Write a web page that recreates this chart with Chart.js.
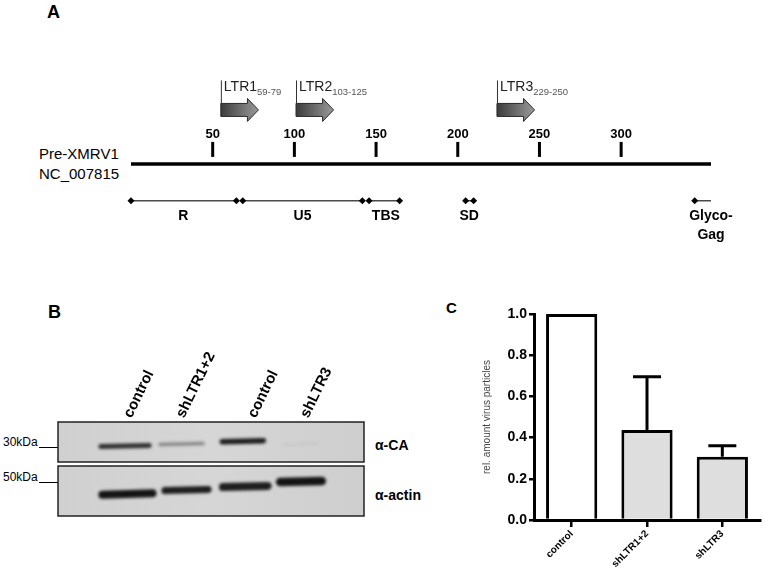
<!DOCTYPE html>
<html>
<head>
<meta charset="utf-8">
<script src="https://cdn.jsdelivr.net/npm/chart.js@4.4.1/dist/chart.umd.min.js"></script>
<style>
  body { margin: 0; background: #fff; width: 764px; height: 579px; position: relative; overflow: hidden;
         font-family: Arial, "Liberation Sans", sans-serif; color: #000; }
  canvas { position: absolute; }
  .txt { position: absolute; white-space: nowrap; line-height: 1; }
  .panel { font-weight: bold; }
  .mark { position: absolute; height: 1px; background: #000; }
</style>
</head>
<body>

<div class="txt panel" style="left:47px;top:3px;font-size:18px;">A</div>
<div class="txt panel" style="left:48px;top:303px;font-size:18px;">B</div>
<div class="txt panel" style="left:446px;top:300px;font-size:15px;">C</div>

<div class="txt" style="left:39px;top:146px;font-size:15px;">Pre-XMRV1</div>
<div class="txt" style="left:39px;top:166px;font-size:15px;">NC_007815</div>

<div class="txt" style="left:3px;top:436px;font-size:12px;">30kDa</div>
<div class="mark" style="left:39px;top:447px;width:19px;"></div>
<div class="txt" style="left:3px;top:471px;font-size:12px;">50kDa</div>
<div class="mark" style="left:39px;top:482px;width:19px;"></div>
<div class="txt" style="left:375px;top:438px;font-size:14px;font-weight:bold;">α-CA</div>
<div class="txt" style="left:375px;top:488px;font-size:14px;font-weight:bold;">α-actin</div>

<canvas id="mapA" width="764" height="260" style="left:0;top:0;"></canvas>
<canvas id="blotB" width="380" height="289" style="left:0;top:290px;"></canvas>
<canvas id="chartC" width="384" height="289" style="left:380px;top:290px;"></canvas>

<script>
// ---------- Panel A: genome map ----------
const rulerTicks = [50, 100, 150, 200, 250, 300];
const genomeEnd = 355;
const primerNames = ['LTR1', 'LTR2', 'LTR3'];
const primerRanges = ['59-79', '103-125', '229-250'];
const primerArrowStart = [55, 101, 224];
const primerArrowEnd = [78, 124, 247];
const featureNames = ['R', 'U5', 'TBS', 'SD', 'Glyco-\nGag'];
const featureStart = [0, 68.4, 145.7, 204.8, 345];
const featureEnd = [64.5, 141.6, 164.4, 209.7, 355];
const featureLabelAt = [32, 105, 156, 207, 355];
const featureEndMarker = [true, true, true, true, false];

// ---------- Panel B: western blot ----------
const lanes = ['control', 'shLTR1+2', 'control', 'shLTR3'];
const laneLabelPos = [0.64, 1.5, 2.67, 3.53];
const caBandFrom = [0.16, 1.14, 2.14, 3.16];
const caBandTo = [1.03, 1.9, 2.9, 3.75];
const caBandShift = [0.6, 0.55, 0.48, 0.55];
const caIntensity = [0.85, 0.4, 0.95, 0.04];
const actinBandFrom = [0.16, 1.19, 2.13, 3.06];
const actinBandTo = [1.11, 2.01, 2.99, 3.88];
const actinBandShift = [0.56, 0.48, 0.41, 0.31];
const actinIntensity = [1, 0.95, 0.95, 1];

// ---------- Panel C: bar chart ----------
const groups = ['control', 'shLTR1+2', 'shLTR3'];
const meanValues = [1.0, 0.437, 0.307];
const errUp = [0, 0.258, 0.054];
const yTicks = [0, 0.2, 0.4, 0.6, 0.8, 1.0];

const FONT = 'Arial, "Liberation Sans", sans-serif';
Chart.defaults.font.family = FONT;
Chart.defaults.color = '#000';

// rows of the map, on a layout scale running top to bottom
const rows = { primer: 116, ruler: 165, feature: 203, label: 219 };

const mapPlugin = {
  id: 'mapDecor',
  afterDatasetsDraw(chart) {
    const { ctx, scales: { x, y } } = chart;
    ctx.save();
    // ruler ticks
    const rulerY = y.getPixelForValue(rows.ruler);
    ctx.fillStyle = '#000';
    ctx.font = 'bold 13px ' + FONT;
    ctx.textAlign = 'center';
    ctx.textBaseline = 'middle';
    rulerTicks.forEach(v => {
      const px = x.getPixelForValue(v);
      ctx.fillRect(px - 1.5, rulerY - 22, 3, 15);
      ctx.fillText(String(v), px, rulerY - 30);
    });
    // primer arrows
    const baseY = y.getPixelForValue(rows.primer);
    primerNames.forEach((name, i) => {
      const x0 = x.getPixelForValue(primerArrowStart[i]);
      const x1 = x.getPixelForValue(primerArrowEnd[i]);
      const head = 11;
      const g = ctx.createLinearGradient(x0, 0, x1, 0);
      g.addColorStop(0, '#3c3c3c');
      g.addColorStop(1, '#9a9a9a');
      ctx.beginPath();
      ctx.moveTo(x0, baseY - 13);
      ctx.lineTo(x1 - head, baseY - 13);
      ctx.lineTo(x1 - head, baseY - 18);
      ctx.lineTo(x1, baseY - 6.5);
      ctx.lineTo(x1 - head, baseY + 5);
      ctx.lineTo(x1 - head, baseY);
      ctx.lineTo(x0, baseY);
      ctx.closePath();
      ctx.fillStyle = g;
      ctx.fill();
      ctx.strokeStyle = '#2a2a2a';
      ctx.lineWidth = 1;
      ctx.stroke();
      // bracket
      ctx.beginPath();
      ctx.moveTo(x0 + 0.5, baseY);
      ctx.lineTo(x0 + 0.5, baseY - 36);
      ctx.strokeStyle = '#333';
      ctx.stroke();
      // label
      ctx.textAlign = 'left';
      ctx.textBaseline = 'alphabetic';
      ctx.fillStyle = '#222';
      ctx.font = '14px ' + FONT;
      ctx.fillText(name, x0 + 3, baseY - 25);
      const w = ctx.measureText(name).width;
      ctx.fillStyle = '#555';
      ctx.font = '9.5px ' + FONT;
      ctx.fillText(primerRanges[i], x0 + 3 + w, baseY - 21);
    });
    // feature labels
    ctx.fillStyle = '#000';
    ctx.font = 'bold 14px ' + FONT;
    ctx.textAlign = 'center';
    ctx.textBaseline = 'middle';
    const ly = y.getPixelForValue(rows.label);
    featureNames.forEach((n, i) => {
      const px = x.getPixelForValue(featureLabelAt[i]);
      n.split('\n').forEach((line, k) => ctx.fillText(line, px, ly + k * 19));
    });
    ctx.restore();
  }
};

const mapSets = [{
  data: [{ x: 0, y: rows.ruler }, { x: genomeEnd, y: rows.ruler }],
  borderColor: '#000', borderWidth: 3.5, pointRadius: 0, clip: false
}];
featureNames.forEach((n, i) => {
  mapSets.push({
    data: [{ x: featureStart[i], y: rows.feature }, { x: featureEnd[i], y: rows.feature }],
    borderColor: '#4a4a4a', borderWidth: 1.5,
    pointStyle: 'rectRot',
    pointRadius: [3.5, featureEndMarker[i] ? 3.5 : 0],
    pointBackgroundColor: '#000', pointBorderColor: '#000', pointBorderWidth: 0,
    clip: false
  });
});

new Chart(document.getElementById('mapA'), {
  type: 'line',
  data: { datasets: mapSets },
  options: {
    responsive: false, animation: false, parsing: false,
    layout: { padding: { left: 131, right: 53, top: 0, bottom: 0 } },
    plugins: { legend: { display: false }, tooltip: { enabled: false } },
    scales: {
      x: { type: 'linear', min: 0, max: genomeEnd, display: false },
      y: { type: 'linear', min: 0, max: 260, reverse: true, display: false }
    }
  },
  plugins: [mapPlugin]
});

// ---------- blot ----------
const strips = [
  { top: 132, bottom: 172, from: caBandFrom, to: caBandTo, shift: caBandShift, ink: caIntensity, thick: [5, 3.5, 5.5, 3] },
  { top: 176, bottom: 226, from: actinBandFrom, to: actinBandTo, shift: actinBandShift, ink: actinIntensity, thick: [8, 7, 8, 8.5] }
];

const blotPlugin = {
  id: 'blot',
  afterDraw(chart) {
    const { ctx, chartArea, scales: { x } } = chart;
    ctx.save();
    strips.forEach(s => {
      const h = s.bottom - s.top;
      const bg = ctx.createLinearGradient(chartArea.left, 0, chartArea.right, 0);
      bg.addColorStop(0, '#d0d0d0');
      bg.addColorStop(0.5, '#d6d6d6');
      bg.addColorStop(1, '#cecece');
      ctx.fillStyle = bg;
      ctx.fillRect(chartArea.left, s.top, chartArea.right - chartArea.left, h);
      // bands
      s.from.forEach((f, i) => {
        const x0 = x.getPixelForValue(f);
        const x1 = x.getPixelForValue(s.to[i]);
        const cy = s.top + h * s.shift[i];
        const t = s.thick[i];
        ctx.save();
        ctx.filter = 'blur(1.4px)';
        ctx.globalAlpha = s.ink[i];
        ctx.fillStyle = '#141414';
        ctx.translate((x0 + x1) / 2, cy);
        ctx.rotate(-0.025);
        ctx.beginPath();
        ctx.roundRect(-(x1 - x0) / 2, -t / 2, x1 - x0, t, t / 2);
        ctx.fill();
        ctx.restore();
      });
      ctx.strokeStyle = '#222';
      ctx.lineWidth = 1.5;
      ctx.strokeRect(chartArea.left, s.top, chartArea.right - chartArea.left, h);
    });
    // lane labels
    ctx.fillStyle = '#000';
    ctx.font = 'bold 15px ' + FONT;
    ctx.textAlign = 'left';
    ctx.textBaseline = 'middle';
    lanes.forEach((name, i) => {
      ctx.save();
      ctx.translate(x.getPixelForValue(laneLabelPos[i]), strips[0].top - 5);
      ctx.rotate(-64 * Math.PI / 180);
      ctx.fillText(name, 0, 0);
      ctx.restore();
    });
    ctx.restore();
  }
};

new Chart(document.getElementById('blotB'), {
  type: 'bar',
  data: { labels: lanes, datasets: [] },
  options: {
    responsive: false, animation: false,
    layout: { padding: { left: 58, right: 16, top: 132, bottom: 63 } },
    plugins: { legend: { display: false }, tooltip: { enabled: false } },
    scales: {
      x: { type: 'linear', min: 0, max: lanes.length, display: false },
      y: { min: 0, max: 1, display: false }
    }
  },
  plugins: [blotPlugin]
});

// ---------- bar chart ----------
const errorBars = {
  id: 'errorBars',
  afterDatasetsDraw(chart) {
    const { ctx, scales: { x, y } } = chart;
    ctx.save();
    ctx.strokeStyle = '#000';
    ctx.lineWidth = 3;
    meanValues.forEach((v, i) => {
      if (!errUp[i]) return;
      const cx = x.getPixelForValue(i);
      const y0 = y.getPixelForValue(v);
      const y1 = y.getPixelForValue(v + errUp[i]);
      ctx.beginPath();
      ctx.moveTo(cx, y0);
      ctx.lineTo(cx, y1);
      ctx.moveTo(cx - 14, y1);
      ctx.lineTo(cx + 14, y1);
      ctx.stroke();
    });
    ctx.restore();
  }
};

new Chart(document.getElementById('chartC'), {
  type: 'bar',
  data: {
    labels: groups,
    datasets: [{
      data: meanValues,
      backgroundColor: ['#ffffff', '#dedede', '#dedede'],
      borderColor: '#000',
      borderWidth: 3,
      barPercentage: 0.68,
      categoryPercentage: 1
    }]
  },
  options: {
    responsive: false, animation: false,
    layout: { padding: { left: 0, right: 4, top: 24, bottom: 0 } },
    plugins: { legend: { display: false }, tooltip: { enabled: false } },
    scales: {
      x: {
        grid: { drawOnChartArea: false, drawTicks: true, tickLength: 7, color: '#000', lineWidth: 2.5, offset: false },
        border: { display: true, color: '#000', width: 3 },
        ticks: { minRotation: 45, maxRotation: 45, padding: 1, color: '#000', font: { size: 10, weight: 'bold' } },
        afterFit(s) { s.height = 59; }
      },
      y: {
        min: 0, max: 1,
        afterBuildTicks(s) { s.ticks = yTicks.map(v => ({ value: v })); },
        ticks: { callback: v => v.toFixed(1), padding: 2, color: '#000', font: { size: 14, weight: 'bold' } },
        grid: { drawOnChartArea: false, drawTicks: true, tickLength: 5, color: '#000', lineWidth: 2.5 },
        border: { display: true, color: '#000', width: 3 },
        title: { display: true, text: 'rel. amount virus particles', color: '#444', font: { size: 10 }, padding: { top: 101, bottom: 0 } },
        afterFit(s) { s.width = 154; }
      }
    }
  },
  plugins: [errorBars]
});
</script>
</body>
</html>
